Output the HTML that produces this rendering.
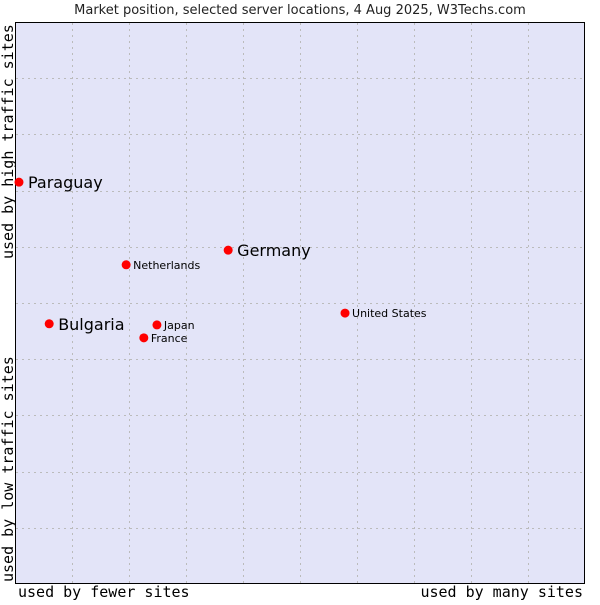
<!DOCTYPE html>
<html><head><meta charset="utf-8"><style>
body{margin:0;background:#fff;width:600px;height:600px;overflow:hidden}
text{font-family:"DejaVu Sans","Liberation Sans",sans-serif}
.mono{font-family:"DejaVu Sans Mono","Liberation Mono",monospace}
</style></head><body>
<svg id="chart" width="600" height="600">
<text x="300" y="14" text-anchor="middle" font-size="13" fill="#222">Market position, selected server locations, 4 Aug 2025, W3Techs.com</text>
<rect x="15.5" y="22.5" width="569" height="561" fill="#e3e4f8" stroke="#000"/>
<g id="grid"></g>
<g id="points"></g>
<text class="mono" x="18" y="597" font-size="15" fill="#000">used by fewer sites</text>
<text class="mono" x="583" y="597" text-anchor="end" font-size="15" fill="#000">used by many sites</text>
<text class="mono" transform="translate(13,259) rotate(-90)" font-size="15" fill="#000">used by high traffic sites</text>
<text class="mono" transform="translate(13,582) rotate(-90)" font-size="15" fill="#000">used by low traffic sites</text>
</svg>
<script>
const countries=["Paraguay","Germany","Netherlands","United States","Bulgaria","Japan","France"];
const xValues=[0.7,37.4,19.5,57.9,6.0,24.9,22.6];
const yValues=[71.5,59.4,56.8,48.2,46.3,46.1,43.8];
const highlighted=[true,true,false,false,true,false,false];
const gridTicks=[10,20,30,40,50,60,70,80,90];
const L=15,R=585,T=22,B=584;
function sx(v){return L+(R-L)*v/100;}
function sy(v){return B-(B-T)*v/100;}
const NS="http://www.w3.org/2000/svg";
const grid=document.getElementById('grid');
gridTicks.forEach(t=>{
  const v=document.createElementNS(NS,'line');
  v.setAttribute('x1',Math.round(sx(t))+0.5);v.setAttribute('x2',Math.round(sx(t))+0.5);
  v.setAttribute('y1',T+1);v.setAttribute('y2',B);
  v.setAttribute('stroke','#bbb');v.setAttribute('stroke-dasharray','2,4');
  
  
  grid.appendChild(v);
  const h=document.createElementNS(NS,'line');
  h.setAttribute('y1',Math.round(sy(t))+0.5);h.setAttribute('y2',Math.round(sy(t))+0.5);
  h.setAttribute('x1',L+1);h.setAttribute('x2',R);
  h.setAttribute('stroke','#bbb');h.setAttribute('stroke-dasharray','2,4');
  
  
  grid.appendChild(h);
});
const pts=document.getElementById('points');
countries.forEach((c,i)=>{
  const x=sx(xValues[i]),y=sy(yValues[i]);
  const m=document.createElementNS(NS,'circle');
  m.setAttribute('cx',x);m.setAttribute('cy',y);m.setAttribute('r',4.5);
  m.setAttribute('fill','#f00');
  
  
  pts.appendChild(m);
  const t=document.createElementNS(NS,'text');
  const big=highlighted[i];
  t.setAttribute('x',x+(big?9:7));t.setAttribute('y',y+(big?6:4));
  t.setAttribute('font-size',big?16:11);t.setAttribute('fill','#000');
  t.textContent=c;
  
  
  pts.appendChild(t);
});
</script>
</body></html>
